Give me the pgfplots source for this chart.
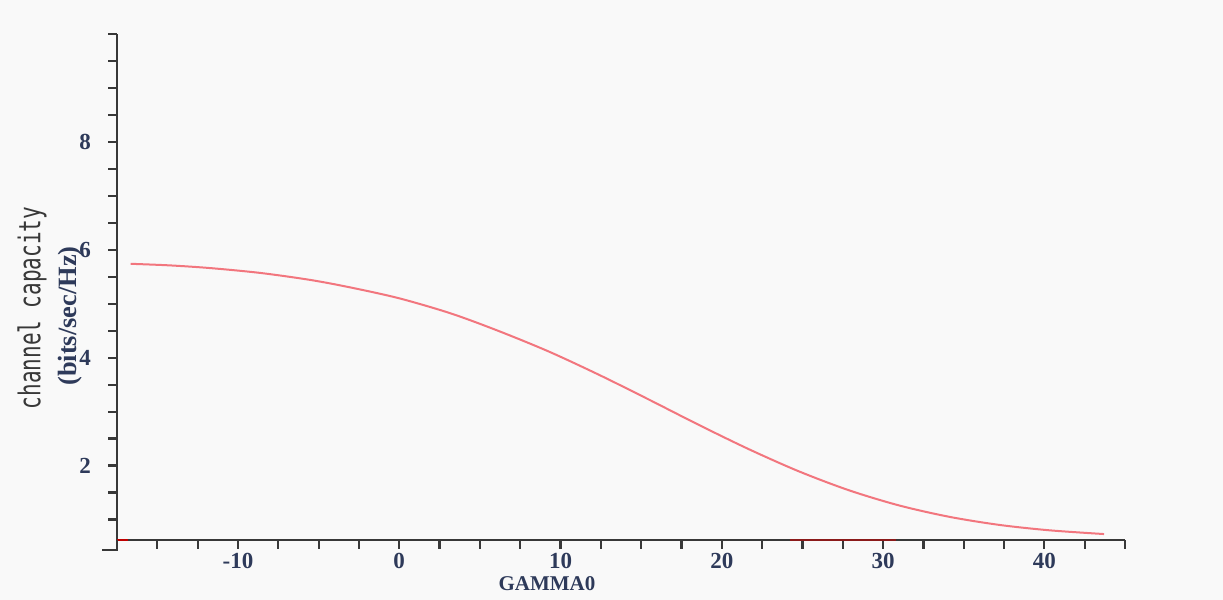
\documentclass[border=0pt]{standalone}
\usepackage{pgfplots}
\pgfplotsset{compat=1.18}
\usepackage{fontspec}
\setmainfont{Liberation Serif}
\newfontfamily\monof{DejaVu Sans Mono}
\definecolor{bg}{HTML}{F9F9F9}
\definecolor{axgray}{HTML}{383838}
\definecolor{ticklab}{HTML}{2E3A5A}
\definecolor{curve}{HTML}{F2767E}
\definecolor{dred}{HTML}{8B1A1A}
\begin{document}
\begin{tikzpicture}
\fill[bg] (0,0) rectangle (611.5pt,300pt);
\begin{axis}[
 at={(58.5pt,30pt)}, anchor=south west,
 scale only axis, width=504pt, height=253pt,
 xmin=-17.5, xmax=45, ymin=0.62, ymax=10,
 axis x line*=bottom, axis y line*=left,
 axis line style={axgray, line width=1.2pt, -},
 xtick={-10,0,10,20,30,40}, ytick={2,4,6,8},
 minor xtick={-15,-12.5,...,45}, minor ytick={1,1.5,...,10},
 tick align=outside, major tick length=4.5pt, minor tick length=4.5pt,
 tick style={axgray, line width=1.1pt},
 ticklabel style={font=\bfseries\fontsize{11.5}{11.5}\selectfont, text=ticklab},
 yticklabel style={xshift=-5pt},
 xticklabel style={yshift=1.5pt},
 /pgf/number format/assume math mode=true,
 clip=false,
]
\addplot[curve, line width=1pt, smooth] coordinates {
(-16.66,5.74) (-14.2,5.71) (-11.7,5.66) (-8.6,5.57) (-5.5,5.44) (-3.0,5.30)
(0.0,5.10) (3.2,4.82) (6.2,4.49) (9.3,4.11) (12.4,3.68) (15.5,3.22)
(18.6,2.75) (21.7,2.30) (24.8,1.89) (27.9,1.54) (31.0,1.26) (34.1,1.05)
(37.2,0.90) (40.3,0.80) (43.7,0.73)
};
\addplot[dred, line width=1.2pt] coordinates {(24.2,0.62) (30.8,0.62)};
\addplot[red!75!black, line width=1.2pt] coordinates {(-17.5,0.62) (-16.8,0.62)};
\addplot[axgray, line width=1.2pt] coordinates {(-18.4,0.44) (-17.5,0.44) (-17.5,0.62)};
\end{axis}
\node[rotate=90, text=axgray] at (16pt,146pt) {\monof\fontsize{15}{15}\selectfont\scalebox{0.7}[1]{channel capacity}};
\node[rotate=90, text=ticklab] at (35pt,142pt) {\bfseries\fontsize{13.2}{13.5}\selectfont (bits/sec/Hz)};
\node[text=ticklab] at (273.5pt,8pt) {\bfseries\fontsize{10.5}{10.5}\selectfont GAMMA0};
\end{tikzpicture}
\end{document}
